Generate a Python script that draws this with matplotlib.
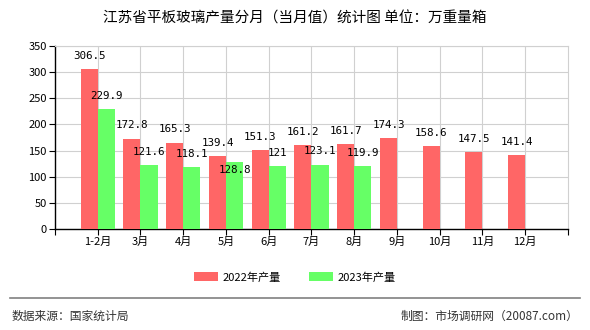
import numpy as np
import matplotlib.pyplot as plt

plt.rcParams['font.family'] = ['Noto Sans CJK SC', 'DejaVu Sans']

months = ['1-2月', '3月', '4月', '5月', '6月', '7月', '8月', '9月', '10月', '11月', '12月']
prod_2022 = [306.5, 172.8, 165.3, 139.4, 151.3, 161.2, 161.7, 174.3, 158.6, 147.5, 141.4]
prod_2023 = [229.9, 121.6, 118.1, 128.8, 121, 123.1, 119.9]
labels_2023 = ['229.9', '121.6', '118.1', '128.8', '121', '123.1', '119.9']
yticks = [0, 50, 100, 150, 200, 250, 300, 350]

red = '#FF6666'
green = '#66FF66'

fig = plt.figure(figsize=(5.9, 3.3), dpi=100)
ax = fig.add_axes([0.0932, 0.3061, 0.8695, 0.5545])

x = np.arange(1, len(months) + 1)
w = 0.4
x23 = x[:len(prod_2023)]

ax.bar(x - w / 2, prod_2022, width=w, color=red, zorder=3, label='2022年产量')
ax.bar(x23 + w / 2, prod_2023, width=w, color=green, zorder=3, label='2023年产量')

for xi, v in zip(x, prod_2022):
    ax.annotate(f'{v}', (xi - w / 2, v), xytext=(0, 9.5), textcoords='offset points',
                ha='center', va='center', fontsize=7.8, family='DejaVu Sans Mono', zorder=4)
for i, (xi, v, s) in enumerate(zip(x23, prod_2023, labels_2023)):
    # the May label gets pushed down under the bar top to dodge 139.4
    dy = -6 if i == 3 else 9.5
    ax.annotate(s, (xi + w / 2, v), xytext=(0, dy), textcoords='offset points',
                ha='center', va='center', fontsize=7.8, family='DejaVu Sans Mono', zorder=4)

ax.set_xlim(0, 12)
ax.set_ylim(0, 350)
ax.set_yticks(yticks)
ax.set_xticks(x)
ax.set_xticklabels(months, fontsize=8)
ax.tick_params(axis='y', labelsize=8, length=4, width=0.8, pad=2)
ax.tick_params(axis='x', length=4, width=0.8, pad=2)
ax.set_xticks([0, 12], minor=True)
ax.tick_params(axis='x', which='minor', length=4, width=0.8)
ax.grid(True, color='#D0D0D0', linewidth=0.8, zorder=0)

for side in ['top', 'right']:
    ax.spines[side].set_color('#D0D0D0')
for side in ['left', 'bottom']:
    ax.spines[side].set_color('black')
    ax.spines[side].set_linewidth(1.0)

fig.text(0.5, 0.945, '江苏省平板玻璃产量分月（当月值）统计图 单位：万重量箱',
         ha='center', va='center', fontsize=10.5)

fig.legend(loc='center', bbox_to_anchor=(0.5, 0.16), ncol=2, frameon=False,
           fontsize=8, handlelength=2.2, handleheight=0.9, columnspacing=2.5,
           handletextpad=0.4)

fig.add_artist(plt.Line2D([0.017, 0.983], [0.097, 0.097], color='#808080', linewidth=1.2))
fig.text(0.02, 0.042, '数据来源：国家统计局', ha='left', va='center', fontsize=8.5, color='#333333')
fig.text(0.98, 0.042, '制图：市场调研网（20087.com）', ha='right', va='center', fontsize=8.5, color='#333333')

fig.savefig('out.png', dpi=100)
